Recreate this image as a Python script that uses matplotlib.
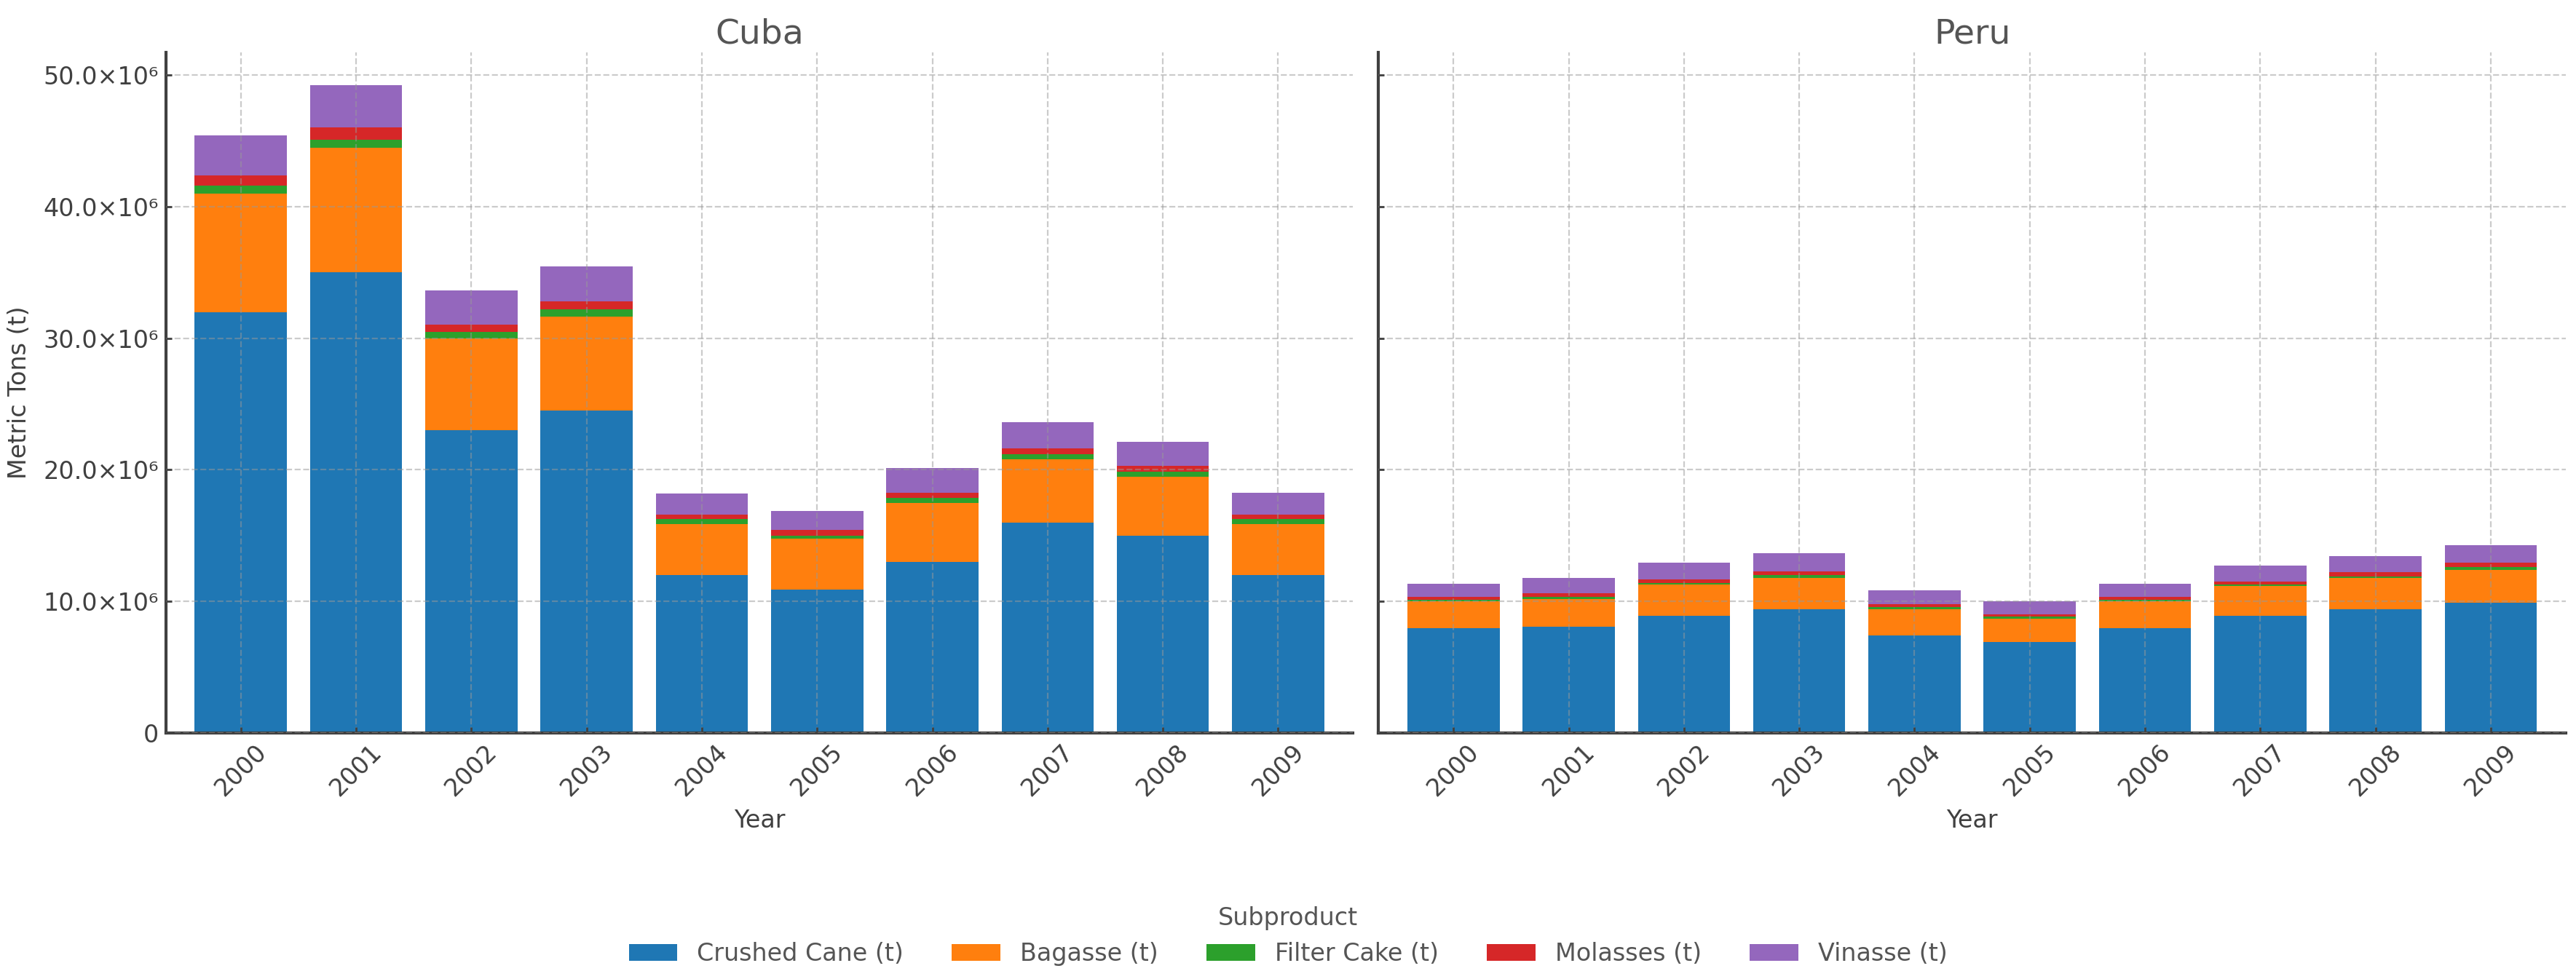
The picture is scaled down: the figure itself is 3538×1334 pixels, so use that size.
"""
Stacked bar chart of sugar cane subproducts for Cuba and Peru, 2000-2009
"""

# getting appropriate imports
import numpy as np
import matplotlib
matplotlib.use('Agg')
import matplotlib.pyplot as plt
from matplotlib.ticker import FuncFormatter

# years shown on the x axis
YEARS = ['2000', '2001', '2002', '2003', '2004', '2005', '2006', '2007', '2008', '2009']

# names of the stacked subproducts, bottom to top
SUBPRODUCTS = ['Crushed Cane (t)', 'Bagasse (t)', 'Filter Cake (t)', 'Molasses (t)', 'Vinasse (t)']
COLORS = ['#1f77b4', '#ff7f0e', '#2ca02c', '#d62728', '#9467bd']

# Cuba values in metric tons
CUBA_CANE = [32.0e6, 35.0e6, 23.0e6, 24.5e6, 12.0e6, 10.9e6, 13.0e6, 16.0e6, 15.0e6, 12.0e6]
CUBA_BAGASSE = [9.0e6, 9.5e6, 7.0e6, 7.15e6, 3.9e6, 3.85e6, 4.5e6, 4.8e6, 4.5e6, 3.9e6]
CUBA_FILTER = [0.6e6, 0.6e6, 0.5e6, 0.55e6, 0.35e6, 0.27e6, 0.35e6, 0.39e6, 0.35e6, 0.35e6]
CUBA_MOLASSES = [0.8e6, 0.9e6, 0.55e6, 0.6e6, 0.37e6, 0.39e6, 0.43e6, 0.45e6, 0.43e6, 0.37e6]
CUBA_VINASSE = [3.0e6, 3.26e6, 2.6e6, 2.65e6, 1.56e6, 1.45e6, 1.86e6, 2.0e6, 1.84e6, 1.66e6]

# Peru values in metric tons
PERU_CANE = [7.95e6, 8.1e6, 8.93e6, 9.43e6, 7.43e6, 6.93e6, 7.95e6, 8.93e6, 9.43e6, 9.93e6]
PERU_BAGASSE = [2.05e6, 2.1e6, 2.33e6, 2.38e6, 2.0e6, 1.78e6, 2.05e6, 2.22e6, 2.33e6, 2.49e6]
PERU_FILTER = [0.12e6, 0.17e6, 0.16e6, 0.22e6, 0.16e6, 0.16e6, 0.12e6, 0.16e6, 0.16e6, 0.17e6]
PERU_MOLASSES = [0.2e6, 0.28e6, 0.23e6, 0.28e6, 0.23e6, 0.17e6, 0.2e6, 0.22e6, 0.28e6, 0.33e6]
PERU_VINASSE = [1.05e6, 1.16e6, 1.27e6, 1.33e6, 1.05e6, 1.0e6, 1.05e6, 1.17e6, 1.22e6, 1.33e6]

TEXT_DARK = '#404040'
TEXT_MID = '#555555'


def format_tons(value, pos):
    """
    Tick formatter that writes the values as 10.0x10^6 and so on
    """
    if value == 0:
        return '0'
    return '{:.1f}×10⁶'.format(value / 1e6)


def plot_country(ax, title, series):
    """
    Draws one country's stacked bars on the given axes
    """
    x = np.arange(len(YEARS))
    bottom = np.zeros(len(YEARS))

    # stacking every subproduct on top of the previous ones
    for name, values, color in zip(SUBPRODUCTS, series, COLORS):
        ax.bar(x, values, width=0.8, bottom=bottom, color=color, label=name, zorder=1)
        bottom = bottom + np.array(values)

    ax.set_xticks(x)
    ax.set_xticklabels(YEARS, rotation=45, ha='center')
    ax.set_xlim(-0.65, len(YEARS) - 0.35)
    ax.set_title(title, fontsize=17, color=TEXT_MID, pad=4.5)
    ax.set_xlabel('Year', fontsize=12, color=TEXT_DARK)

    # grid is drawn on top of the bars, dashed and light
    ax.set_axisbelow(False)
    ax.grid(True, linestyle='--', linewidth=0.8, color='#999999', alpha=0.5, zorder=3)

    # only the left and bottom spines are kept
    for side in ['top', 'right']:
        ax.spines[side].set_visible(False)
    for side in ['left', 'bottom']:
        ax.spines[side].set_color(TEXT_DARK)
        ax.spines[side].set_linewidth(1.5)

    ax.tick_params(direction='in', length=3, width=1, color=TEXT_DARK,
                   labelcolor=TEXT_DARK, labelsize=12)


if __name__ == '__main__':
    plt.rcParams['font.family'] = ['DejaVu Sans']

    fig, (ax_cuba, ax_peru) = plt.subplots(1, 2, sharey=True, figsize=(17.69, 6.67), dpi=200)
    fig.subplots_adjust(left=0.0644, right=0.996, bottom=0.2451, top=0.946, wspace=0.0215)

    plot_country(ax_cuba, 'Cuba', [CUBA_CANE, CUBA_BAGASSE, CUBA_FILTER, CUBA_MOLASSES, CUBA_VINASSE])
    plot_country(ax_peru, 'Peru', [PERU_CANE, PERU_BAGASSE, PERU_FILTER, PERU_MOLASSES, PERU_VINASSE])

    # shared y axis with the custom formatter
    ax_cuba.yaxis.set_major_formatter(FuncFormatter(format_tons))
    ax_cuba.set_yticks([0, 10e6, 20e6, 30e6, 40e6, 50e6])
    ax_cuba.set_ylabel('Metric Tons (t)', fontsize=12, color=TEXT_DARK, labelpad=6)
    ax_peru.tick_params(axis='y', labelleft=False)

    # one legend for both plots at the bottom
    handles, labels = ax_cuba.get_legend_handles_labels()
    legend = fig.legend(handles, labels, loc='lower center', bbox_to_anchor=(0.5, -0.005),
                        ncol=5, frameon=False, title='Subproduct', fontsize=12,
                        title_fontsize=12, borderaxespad=0)
    for text in legend.get_texts():
        text.set_color(TEXT_MID)
    legend.get_title().set_color(TEXT_MID)

    fig.savefig('out.png', dpi=200)
